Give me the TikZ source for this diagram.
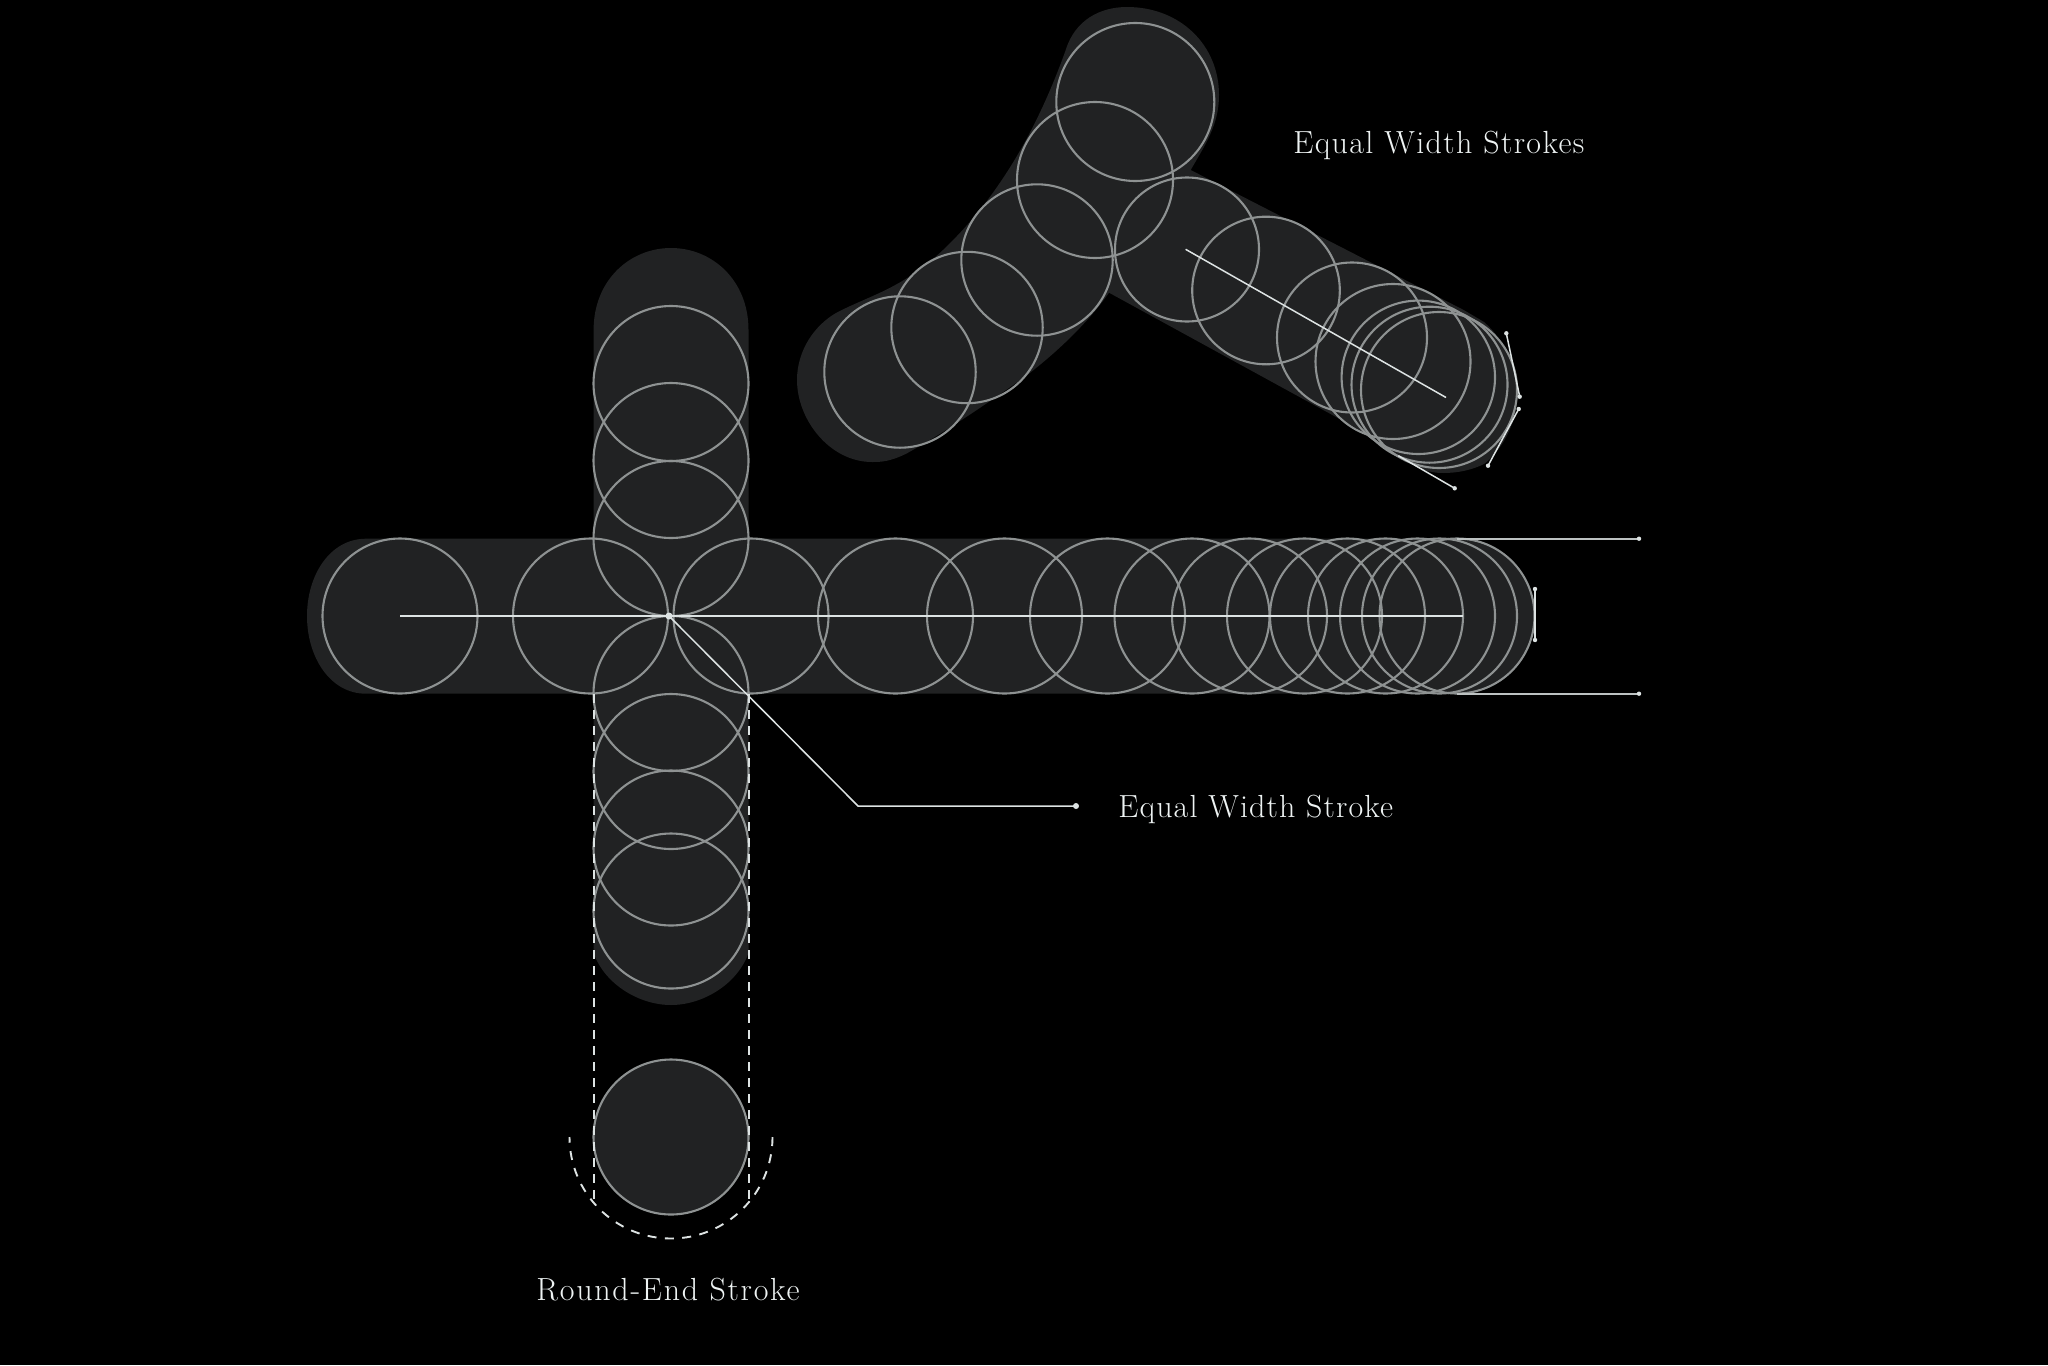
\documentclass[tikz,border=0pt]{standalone}
\usepackage{fontspec}
\newfontfamily\capA[LetterSpace=4.2]{Latin Modern Roman}
\newfontfamily\capB[LetterSpace=3.5]{Latin Modern Roman}
\newfontfamily\capC[LetterSpace=5.4]{Latin Modern Roman}
\definecolor{strokefill}{HTML}{212223}
\definecolor{ringcol}{HTML}{8E9292}
\definecolor{linecol}{HTML}{DDE3E3}
\definecolor{textcol}{HTML}{EEF3F3}
\tikzset{
  bodyfill/.style={fill=strokefill,draw=none},
  ring/.style={draw=ringcol,line width=1.05pt},
  guide/.style={draw=linecol,line width=0.75pt},
  heavyguide/.style={draw=linecol!85!black,line width=1pt},
  dashguide/.style={draw=linecol,line width=1pt,dash pattern=on 4.5pt off 3.5pt},
  arcguide/.style={draw=linecol,line width=0.95pt,dash pattern=on 4.5pt off 4.2pt},
  dotend/.style={fill=linecol,draw=none},
  caption/.style={text=textcol,inner sep=0pt,anchor=base west}
}
\newcommand{\ringsat}[2]{\foreach \p/\q in {#2}{\draw[ring] (\p,\q) circle[radius=#1];}}
\begin{document}
\begin{tikzpicture}[x=0.5pt,y=-0.5pt]
\useasboundingbox (0,0) rectangle (2048,1365);
\fill[black] (0,0) rectangle (2048,1365);
% horizontal stroke
\fill[bodyfill] (366,538.7) -- (1457,538.7) arc[start angle=-90,end angle=90,radius=77.5] -- (366,693.7)
  .. controls (330,693.7) and (307,657) .. (307,616) .. controls (307,575) and (330,538.7) .. (366,538.7) -- cycle;
% vertical stroke
\fill[bodyfill] (593.6,330) .. controls (593.6,280) and (630,248) .. (671,248) .. controls (712,248) and (748.5,280) .. (748.5,330)
  -- (748.5,953) .. controls (737,985) and (702,1005) .. (671,1005) .. controls (640,1005) and (605,985) .. (593.6,953) -- cycle;
% upper stroke
\fill[bodyfill] (1190.7,170) .. controls (1205,145) and (1219,125) .. (1219,95)
  .. controls (1219,45) and (1180,7) .. (1127,7) .. controls (1100,7) and (1075,20) .. (1065.7,50)
  .. controls (1030,150) and (985,210) .. (943,250) .. controls (900,290) and (870,295) .. (836,313)
  .. controls (815,325) and (797,350) .. (797,380) .. controls (797,420) and (830,462) .. (872,462)
  .. controls (880,462) and (890,462) .. (907.5,453) .. controls (945,432) and (985,405) .. (1025,376.7)
  .. controls (1060,350) and (1090,320) .. (1109,292.7)
  -- (1372,436.7) -- (1400,456.7)
  .. controls (1415,468) and (1428,473) .. (1443,473) .. controls (1458,473) and (1472,470) .. (1484,464)
  .. controls (1500,452) and (1517,425) .. (1517,396) .. controls (1517,370) and (1505,340) .. (1484,322)
  -- (1463.7,310) -- cycle;
% last disc
\fill[bodyfill] (671,1137) circle[radius=78];
% rings: horizontal
\ringsat{77.5}{400/616,590.5/616,751/616,895.5/616,1004.5/616,1107.5/616,1192/616,1249.5/616,1304.5/616,1347.5/616,1385.5/616,1417.5/616,1439.5/616,1457/616}
% rings: vertical
\ringsat{77.5}{671/383.5,671/460.5,671/538.5,671/693.5,671/771.5,671/848,671/911,671/1137}
% rings: upper
\draw[ring] (1135.3,102) circle[radius=79];
\draw[ring] (1095,180) circle[radius=78];
\ringsat{75.7}{1037/260,967/327.5,900/372}
\draw[ring] (1187,249.5) circle[radius=72];
\draw[ring] (1266,290.5) circle[radius=73.8];
\draw[ring] (1352,337.5) circle[radius=75];
\draw[ring] (1393,361.5) circle[radius=77.5];
\draw[ring] (1418.3,377.3) circle[radius=76.7];
\draw[ring] (1429.5,384.7) circle[radius=78];
\draw[ring] (1439,390) circle[radius=78];
% guides
\coordinate (hub) at (669,616);
\coordinate (hubend) at (1462.7,616);
\coordinate (hubstart) at (400,616);
\coordinate (elbow) at (858,806);
\coordinate (lead) at (1076,806);
\draw[guide] (hubstart) -- (hubend);
\draw[guide] (hub) -- (elbow) -- (lead);
\fill[dotend] (hub) circle[radius=3.5];
\fill[dotend] (lead) circle[radius=3];
\draw[guide] (1185.6,249.3) -- (1446,397.5);
\coordinate (t1a) at (1457,538.7); \coordinate (t1b) at (1639,538.7);
\coordinate (t2a) at (1457,693.7); \coordinate (t2b) at (1639,693.7);
\coordinate (t3a) at (1535,589); \coordinate (t3b) at (1535,640);
\coordinate (t4a) at (1506.3,333.3); \coordinate (t4b) at (1519.7,396.7);
\coordinate (t5a) at (1518.7,409); \coordinate (t5b) at (1488,465.7);
\coordinate (t6a) at (1398.3,455.7); \coordinate (t6b) at (1454.7,488.3);
\foreach \a/\b in {t1a/t1b,t2a/t2b}{\draw[heavyguide] (\a) -- (\b);}
\foreach \a/\b in {t3a/t3b,t4a/t4b,t5a/t5b,t6a/t6b}{\draw[guide] (\a) -- (\b);}
\foreach \b in {t1b,t2b,t3a,t3b,t4a,t4b,t5a,t5b,t6b}{\fill[dotend] (\b) circle[radius=2.2];}
% dashed envelope
\draw[dashguide] (594,694) -- (594,1200);
\draw[dashguide] (749,694) -- (749,1200);
\draw[arcguide] (772.5,1137) arc[start angle=0,end angle=180,radius=101.5];
% captions
\node[caption,font=\capA\fontsize{16}{18}\selectfont] (strokes) at (1293,153) {Equal Width Strokes};
\node[caption,font=\capB\fontsize{16}{18}\selectfont] (single) at (1118,817) {Equal Width Stroke};
\node[caption,font=\capC\fontsize{16}{18}\selectfont] (roundend) at (536,1300) {Round-End Stroke};
\end{tikzpicture}
\end{document}
